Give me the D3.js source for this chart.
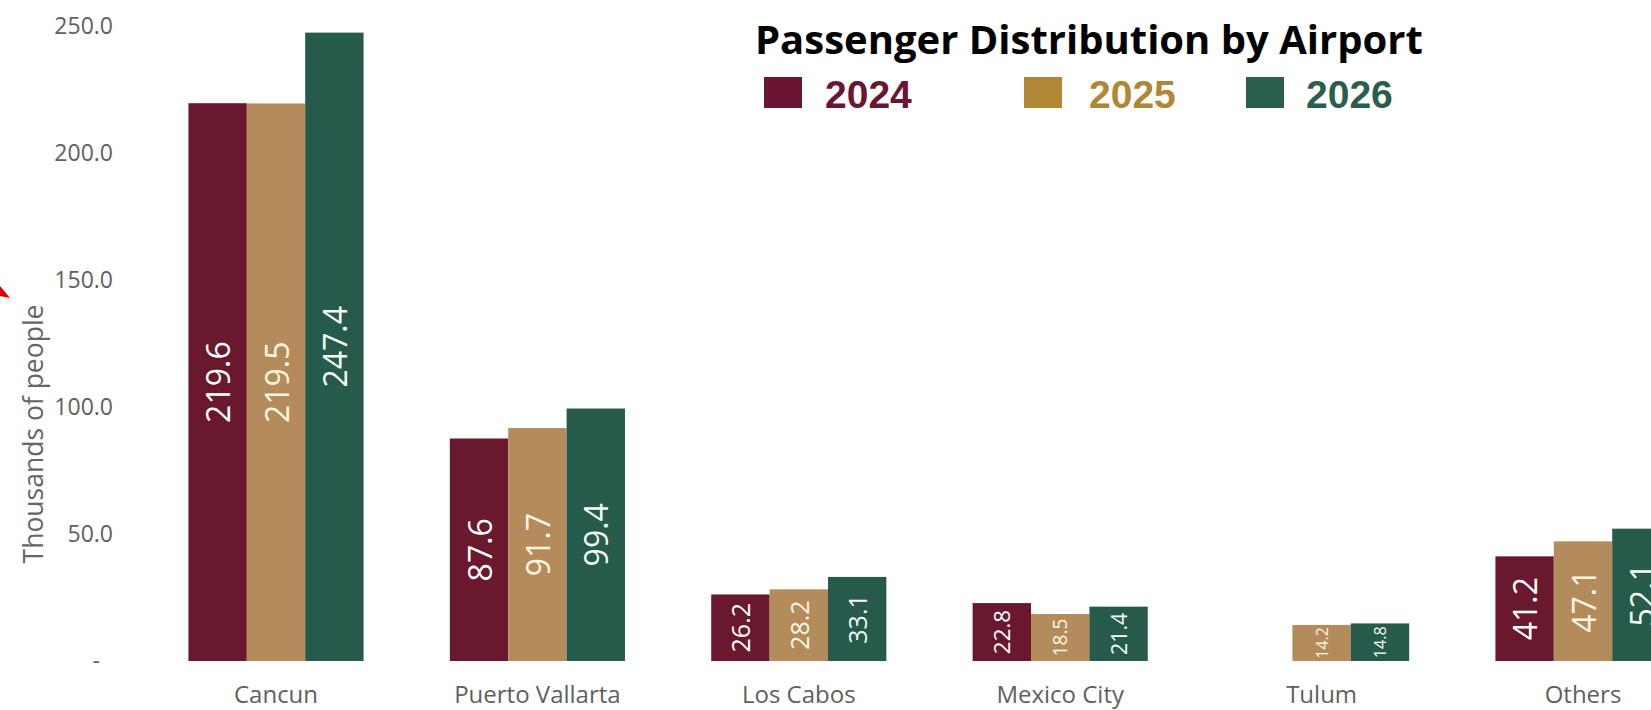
<!DOCTYPE html>
<html>
<head>
<meta charset="utf-8">
<script src="https://cdn.jsdelivr.net/npm/d3@7"></script>
<style>
  html, body { margin: 0; padding: 0; background: #fff; overflow: hidden; }
  svg { display: block; }
</style>
</head>
<body>
<svg id="chart" width="1651" height="710"></svg>
<script>
// ---- data ----
const categories = ["Cancun", "Puerto Vallarta", "Los Cabos", "Mexico City", "Tulum", "Others"];
const years = ["2024", "2025", "2026"];
const values2024 = [219.6, 87.6, 26.2, 22.8, null, 41.2];
const values2025 = [219.5, 91.7, 28.2, 18.5, 14.2, 47.1];
const values2026 = [247.4, 99.4, 33.1, 21.4, 14.8, 52.1];
const yTicks = [0, 50, 100, 150, 200, 250];
const chartTitle = "Passenger Distribution by Airport";
const yAxisTitle = "Thousands of people";

// ---- styles ----
const barColors = { "2024": "#69182d", "2025": "#b48b5a", "2026": "#265a4a" };
const legendColors = { "2024": "#6b1535", "2025": "#b08735", "2026": "#2a5e4d" };
const labelColors = { "2024": "#ffffff", "2025": "#fff6e2", "2026": "#f2fbf6" };
const legendX = [764, 1024, 1246];
const legendTextDx = [61, 65, 60];

const seriesValues = { "2024": values2024, "2025": values2025, "2026": values2026 };

const svg = d3.select("#chart");

const x = d3.scaleBand().domain(categories).range([145.3, 1713.7])
  .paddingInner(0.33).paddingOuter(0.165);
const xs = d3.scaleBand().domain(years).range([0, x.bandwidth()]);
const y = d3.scaleLinear().domain([0, 250]).range([661, 26]);

// y axis
const yAxis = svg.append("g").attr("transform", "translate(120,0)")
  .call(d3.axisLeft(y).tickValues(yTicks).tickSize(0).tickPadding(7)
    .tickFormat(d => d === 0 ? "-\u2007" : d3.format(".1f")(d)));
yAxis.select(".domain").remove();
yAxis.selectAll("text")
  .attr("font-family", "'Open Sans', sans-serif")
  .attr("font-size", 23)
  .attr("fill", "#606060");

// y axis title
svg.append("text")
  .attr("transform", "translate(43,434) rotate(-90)")
  .attr("text-anchor", "middle")
  .attr("font-family", "'Open Sans', sans-serif")
  .attr("font-size", 26.5)
  .attr("fill", "#666")
  .text(yAxisTitle);

// x axis labels
const xAxis = svg.append("g").attr("transform", "translate(0,661)")
  .call(d3.axisBottom(x).tickSize(0).tickPadding(0));
xAxis.select(".domain").remove();
xAxis.selectAll("text")
  .attr("y", 42).attr("dy", 0)
  .attr("font-family", "'Open Sans', sans-serif")
  .attr("font-size", 24)
  .attr("fill", "#5f5f5f");

// bars
const flat = [];
categories.forEach((c, i) => {
  years.forEach(yr => {
    const v = seriesValues[yr][i];
    if (v != null) flat.push({ cat: c, year: yr, value: v });
  });
});

const groups = svg.append("g");
const bar = groups.selectAll("g.bar").data(flat).join("g").attr("class", "bar");
bar.append("rect")
  .attr("x", d => x(d.cat) + xs(d.year))
  .attr("y", d => y(d.value))
  .attr("width", xs.bandwidth())
  .attr("height", d => y(0) - y(d.value))
  .attr("fill", d => barColors[d.year]);

bar.append("text")
  .attr("transform", d => {
    const cx = x(d.cat) + xs(d.year) + xs.bandwidth() / 2;
    const cy = (y(d.value) + y(0)) / 2;
    return `translate(${cx},${cy}) rotate(-90)`;
  })
  .attr("text-anchor", "middle")
  .attr("dominant-baseline", "central")
  .attr("font-family", "'Open Sans', sans-serif")
  .attr("font-size", d => {
    const h = y(0) - y(d.value);
    return h > 95 ? 32 : Math.min(25, 5 + 0.3 * h);
  })
  .attr("fill", d => labelColors[d.year])
  .text(d => d3.format(".1f")(d.value));

// title
svg.append("text")
  .attr("x", 755).attr("y", 54)
  .attr("font-family", "'Open Sans', sans-serif")
  .attr("font-weight", 700)
  .attr("font-size", 40)
  .attr("fill", "#000")
  .text(chartTitle);

// legend
const leg = svg.append("g").selectAll("g").data(years).join("g")
  .attr("transform", (d, i) => `translate(${legendX[i]},0)`);
leg.append("rect").attr("x", 0).attr("y", 77).attr("width", 38).attr("height", 31)
  .attr("fill", d => legendColors[d]);
leg.append("text").attr("x", (d, i) => legendTextDx[i]).attr("y", 108)
  .attr("font-family", "'Liberation Sans', Arial, sans-serif")
  .attr("font-weight", 700)
  .attr("font-size", 39)
  .attr("fill", d => legendColors[d])
  .text(d => d);

// red arrow tip at left edge
svg.append("path")
  .attr("d", "M0,286 L10,298 L0,296 Z")
  .attr("fill", "#e00000");
</script>
</body>
</html>
